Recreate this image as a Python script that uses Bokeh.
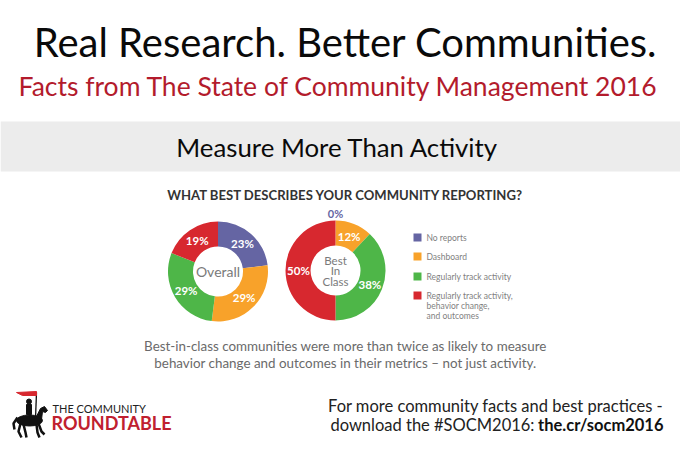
import math
from bokeh.plotting import figure
from bokeh.models import Range1d, ColumnDataSource
from bokeh.core.properties import value
from bokeh.embed import file_html
from bokeh.resources import INLINE

# ---------------- data ----------------
categories = ["No reports", "Dashboard", "Regularly track activity",
              "Regularly track activity, behavior change, and outcomes"]
legend_lines = [["No reports"], ["Dashboard"], ["Regularly track activity"],
                ["Regularly track activity,", "behavior change,", "and outcomes"]]
overall_pct = [23, 29, 29, 19]
best_pct = [0, 12, 38, 50]
colors = ["#6565a3", "#f8a22a", "#4eb648", "#d7282f"]
donut_names = ["Overall", "Best\nIn\nClass"]

W, H = 680, 453
FONT = value("Lato")


def Y(v):
    return H - v


p = figure(width=W, height=H, x_range=Range1d(0, W), y_range=Range1d(0, H),
           output_backend="svg", toolbar_location=None, min_border=0)
p.axis.visible = False
p.grid.visible = False
p.outline_line_color = None
p.background_fill_color = "white"
p.border_fill_color = "white"


def txt(x, y, s, size, color, align="center", style="normal", font=FONT):
    p.text(x=[x], y=[Y(y)], text=[s], text_font=font, text_font_size=f"{size}px",
           text_color=color, text_align=align, text_baseline="middle",
           text_font_style=style)


# headings
txt(345, 41, "Real Research. Better Communities.", 40, "#0a0a0a")
txt(338, 85, "Facts from The State of Community Management 2016", 26.5, "#b31b2c")
p.quad(left=[0], right=[W], bottom=[Y(171)], top=[Y(121)], color="#ececec", line_color=None)
txt(337, 146, "Measure More Than Activity", 25.8, "#0a0a0a")
txt(345, 194, "WHAT BEST DESCRIBES YOUR COMMUNITY REPORTING?", 13.1, "#333333", style="bold")

# donuts
centers = [(217.5, 271), (335, 270)]
R_OUT, R_IN, R_LAB = 50, 25, 37
for (cx, cy), vals, name in zip(centers, [overall_pct, best_pct], donut_names):
    total = float(sum(vals))
    cum = 0.0
    starts, ends, cols, lx, ly, lt, zx, zy, zt, zc = [], [], [], [], [], [], [], [], [], []
    for v, c in zip(vals, colors):
        a0 = cum / total
        cum += v
        a1 = cum / total
        mid = (a0 + a1) / 2 * 2 * math.pi
        if v > 0:
            starts.append(math.pi / 2 - 2 * math.pi * a1)
            ends.append(math.pi / 2 - 2 * math.pi * a0)
            cols.append(c)
            lx.append(cx + R_LAB * math.sin(mid))
            ly.append(Y(cy - R_LAB * math.cos(mid)))
            lt.append(f"{v}%")
        else:
            zx.append(cx + (R_OUT + 7) * math.sin(mid))
            zy.append(Y(cy - (R_OUT + 7) * math.cos(mid)))
            zt.append(f"{v}%")
            zc.append(c)
    src = ColumnDataSource(dict(start=starts, end=ends, color=cols))
    p.annular_wedge(x=cx, y=Y(cy), inner_radius=R_IN, outer_radius=R_OUT,
                    start_angle="start", end_angle="end", color="color",
                    line_color=None, source=src)
    p.text(x=lx, y=ly, text=lt, text_font=FONT, text_font_size="11.5px",
           text_color="white", text_font_style="bold", text_align="center",
           text_baseline="middle")
    if zt:
        p.text(x=zx, y=zy, text=zt, text_font=FONT, text_font_size="11px",
               text_color=zc, text_font_style="bold", text_align="center",
               text_baseline="middle")
    lines = name.split("\n")
    n = len(lines)
    for i, ln in enumerate(lines):
        txt(cx, cy + (i - (n - 1) / 2) * 10.5, ln, 14 if n == 1 else 11.5, "#7a7a7a")

# legend
leg_y = [237, 256, 276, 295]
p.scatter(x=[417] * 4, y=[Y(v) for v in leg_y], marker="square", size=8,
          color=colors, line_color=None)
for yy, lns in zip(leg_y, legend_lines):
    for j, ln in enumerate(lns):
        txt(426, yy + j * 10, ln, 8.5, "#7f7f7f", align="left")

# caption
txt(345, 345, "Best-in-class communities were more than twice as likely to measure", 13.4, "#6a6a6a")
txt(345, 362, "behavior change and outcomes in their metrics \u2013 not just activity.", 13.4, "#6a6a6a")

# footer
txt(663, 405, "For more community facts and best practices -", 16.5, "#222222", align="right")
txt(663, 424, "the.cr/socm2016", 16.5, "#111111", align="right", style="bold")
txt(534, 424, "download the #SOCM2016:", 16.5, "#222222", align="right")

# logo
txt(52, 408, "THE COMMUNITY", 11, "#222222", align="left")
txt(51, 422, "ROUNDTABLE", 18, "#c0202f", align="left", style="bold")

K = "#111111"
p.ellipse(x=[29], y=[Y(420)], width=[26], height=[11], color=K)
neck = [(36, 416), (40, 408), (44, 406), (47, 410), (45, 412), (42, 411), (41, 419)]
p.patch([a for a, b in neck], [Y(b) for a, b in neck], color=K)
legs = [[(38, 423), (41, 431), (44, 434)], [(36, 424), (37, 432), (39, 437)],
        [(20, 423), (18, 431), (21, 437)], [(23, 424), (25, 432), (26, 437)],
        [(17, 417), (13, 423), (14, 429)], [(29, 413), (31, 419)]]
p.multi_line([[a for a, b in l] for l in legs], [[Y(b) for a, b in l] for l in legs],
             line_color=K, line_width=2.5)
p.quad(left=[26], right=[31], top=[Y(404)], bottom=[Y(414)], color=K)
p.scatter(x=[28.5], y=[Y(401)], size=5, color=K)
p.line([36, 35], [Y(392), Y(418)], line_color=K, line_width=1.3)
flag = [(16, 392), (36, 391), (36, 395), (22, 395)]
p.patch([a for a, b in flag], [Y(b) for a, b in flag], color="#d7282f")

open("out.html", "w").write(file_html(p, INLINE))
